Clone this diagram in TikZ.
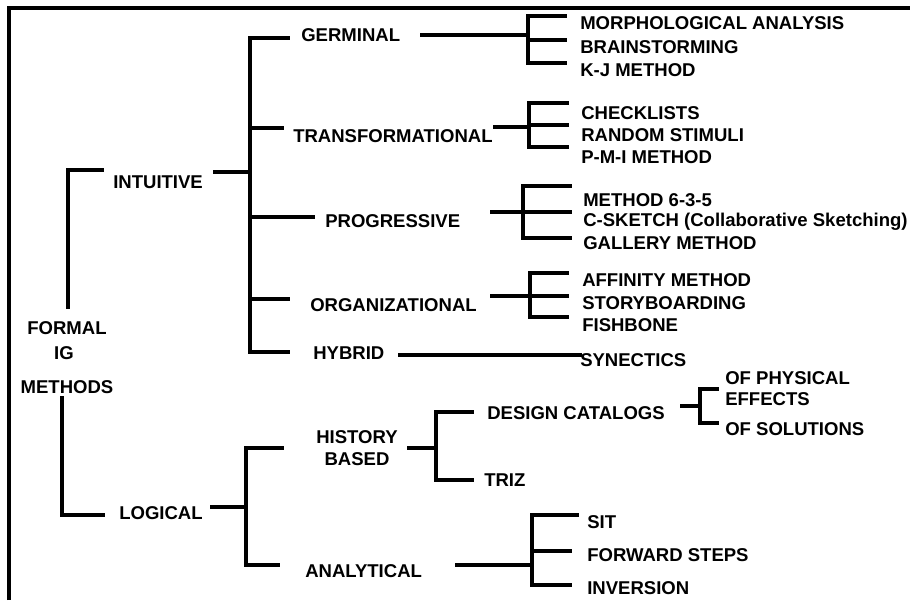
\documentclass[tikz,border=0pt]{standalone}
\usepackage{fontspec}
\setmainfont{Liberation Sans}
\begin{document}
\begin{tikzpicture}[x=0.75pt,y=-0.75pt,
  ln/.style={line width=2.6pt,line cap=rect,line join=miter},
  frm/.style={line width=2.4pt},
  lbl/.style={inner sep=0pt,text height=9.95pt,text depth=0pt,font=\fontsize{13.9}{16}\selectfont\bfseries},
  lw/.style={lbl,anchor=west},
  lc/.style={lbl,anchor=center}]
\useasboundingbox (0,0) rectangle (910,600);
% frame
\coordinate (f1) at (9,600); \coordinate (f2) at (9,8); \coordinate (f3) at (910,8);
\draw[frm] (f1) -- (f2) -- (f3);
% root
\node[lc] (formal) at (67,328) {FORMAL};
\node[lc] (ig) at (64,353) {IG};
\node[lc] (methods) at (67,387) {METHODS};
\node[lw] (intuitive) at (113,182) {INTUITIVE};
\node[lw] (logical) at (119,513) {LOGICAL};
\coordinate (ia) at (102,170); \coordinate (ib) at (68,170); \coordinate (ic) at (68,307);
\draw[ln] (ia) -- (ib) -- (ic);
\coordinate (la) at (62,398); \coordinate (lb) at (62,515); \coordinate (lc) at (103,515);
\draw[ln] (la) -- (lb) -- (lc);
% intuitive children
\node[lw] (germ) at (301,35) {GERMINAL};
\node[lw] (trans) at (293,136) {TRANSFORMATIONAL};
\node[lw] (prog) at (325,221) {PROGRESSIVE};
\node[lw] (org) at (310,305) {ORGANIZATIONAL};
\node[lw] (hyb) at (313,353) {HYBRID};
\coordinate (i1) at (215,172); \coordinate (i2) at (250,172);
\draw[ln] (i1) -- (i2);
\coordinate (c0) at (288,38); \coordinate (c1) at (250,38); \coordinate (c2) at (250,352); \coordinate (c3) at (288,352);
\draw[ln] (c0) -- (c1) -- (c2) -- (c3);
\coordinate (t1) at (250,128); \coordinate (t2) at (282,128);
\coordinate (p1) at (250,217); \coordinate (p2) at (313,217);
\coordinate (o1) at (250,299); \coordinate (o2) at (288,299);
\draw[ln] (t1) -- (t2); \draw[ln] (p1) -- (p2); \draw[ln] (o1) -- (o2);
% germinal
\coordinate (g1) at (422,35); \coordinate (g2) at (528,35);
\draw[ln] (g1) -- (g2);
\coordinate (ga) at (565,16); \coordinate (gb) at (528,16); \coordinate (gc) at (528,63); \coordinate (gd) at (565,63);
\coordinate (ge) at (528,40); \coordinate (gf) at (565,40);
\draw[ln] (ga) -- (gb) -- (gc) -- (gd); \draw[ln] (ge) -- (gf);
\node[lw] (morph) at (580,23) {MORPHOLOGICAL ANALYSIS};
\node[lw] (brain) at (580,47) {BRAINSTORMING};
\node[lw] (kj) at (580,70) {K-J METHOD};
% transformational
\coordinate (tr1) at (495,127); \coordinate (tr2) at (529,127);
\draw[ln] (tr1) -- (tr2);
\coordinate (ta) at (567,103); \coordinate (tb) at (529,103); \coordinate (tc) at (529,147); \coordinate (td) at (567,147);
\coordinate (te) at (529,125); \coordinate (tf) at (567,125);
\draw[ln] (ta) -- (tb) -- (tc) -- (td); \draw[ln] (te) -- (tf);
\node[lw] (check) at (581,113) {CHECKLISTS};
\node[lw] (random) at (581,135) {RANDOM STIMULI};
\node[lw] (pmi) at (581,157) {P-M-I METHOD};
% progressive
\coordinate (pr1) at (492,212); \coordinate (pr2) at (523,212);
\draw[ln] (pr1) -- (pr2);
\coordinate (pa) at (570,186); \coordinate (pb) at (523,186); \coordinate (pc) at (523,238); \coordinate (pd) at (570,238);
\coordinate (pf) at (570,212);
\draw[ln] (pa) -- (pb) -- (pc) -- (pd); \draw[ln] (pr2) -- (pf);
\node[lw] (m635) at (583,200) {METHOD 6-3-5};
\node[lw] (csk) at (583,220) {C-SKETCH (Collaborative Sketching)};
\node[lw] (gal) at (583,243) {GALLERY METHOD};
% organizational
\coordinate (or1) at (492,296); \coordinate (or2) at (530,296);
\draw[ln] (or1) -- (or2);
\coordinate (oa) at (567,273); \coordinate (ob) at (530,273); \coordinate (oc) at (530,317); \coordinate (od) at (567,317);
\coordinate (of) at (567,296);
\draw[ln] (oa) -- (ob) -- (oc) -- (od); \draw[ln] (or2) -- (of);
\node[lw] (aff) at (582,280) {AFFINITY METHOD};
\node[lw] (story) at (582,303) {STORYBOARDING};
\node[lw] (fish) at (582,325) {FISHBONE};
% hybrid
\coordinate (h1) at (400,355); \coordinate (h2) at (580,355);
\draw[ln] (h1) -- (h2);
\node[lw] (syn) at (580,360) {SYNECTICS};
% logical children
\coordinate (lg1) at (212,507); \coordinate (lg2) at (246,507);
\draw[ln] (lg1) -- (lg2);
\coordinate (lga) at (282,448); \coordinate (lgb) at (246,448); \coordinate (lgc) at (246,565); \coordinate (lgd) at (278,565);
\draw[ln] (lga) -- (lgb) -- (lgc) -- (lgd);
\node[lc] (hist) at (357,437) {HISTORY};
\node[lc] (based) at (357,459) {BASED};
\node[lw] (anal) at (305,571) {ANALYTICAL};
% history based
\coordinate (hb1) at (409,448); \coordinate (hb2) at (436,448);
\draw[ln] (hb1) -- (hb2);
\coordinate (hba) at (472,412); \coordinate (hbb) at (436,412); \coordinate (hbc) at (436,480); \coordinate (hbd) at (472,480);
\draw[ln] (hba) -- (hbb) -- (hbc) -- (hbd);
\node[lw] (dcat) at (487,413) {DESIGN CATALOGS};
\node[lw] (triz) at (484,480) {TRIZ};
% design catalogs
\coordinate (dc1) at (682,406); \coordinate (dc2) at (700,406);
\draw[ln] (dc1) -- (dc2);
\coordinate (dca) at (717,389); \coordinate (dcb) at (700,389); \coordinate (dcc) at (700,423); \coordinate (dcd) at (717,423);
\draw[ln] (dca) -- (dcb) -- (dcc) -- (dcd);
\node[lw] (ofp) at (725,378) {OF PHYSICAL};
\node[lw] (eff) at (725,399) {EFFECTS};
\node[lw] (ofs) at (725,429) {OF SOLUTIONS};
% analytical
\coordinate (an1) at (457,565); \coordinate (an2) at (532,565);
\draw[ln] (an1) -- (an2);
\coordinate (ana) at (577,515); \coordinate (anb) at (532,515); \coordinate (anc) at (532,585); \coordinate (and) at (570,585);
\coordinate (ane) at (532,551); \coordinate (anf) at (570,551);
\draw[ln] (ana) -- (anb) -- (anc) -- (and); \draw[ln] (ane) -- (anf);
\node[lw] (sit) at (587,522) {SIT};
\node[lw] (fwd) at (587,555) {FORWARD STEPS};
\node[lw] (inv) at (587,588) {INVERSION};
\end{tikzpicture}
\end{document}
